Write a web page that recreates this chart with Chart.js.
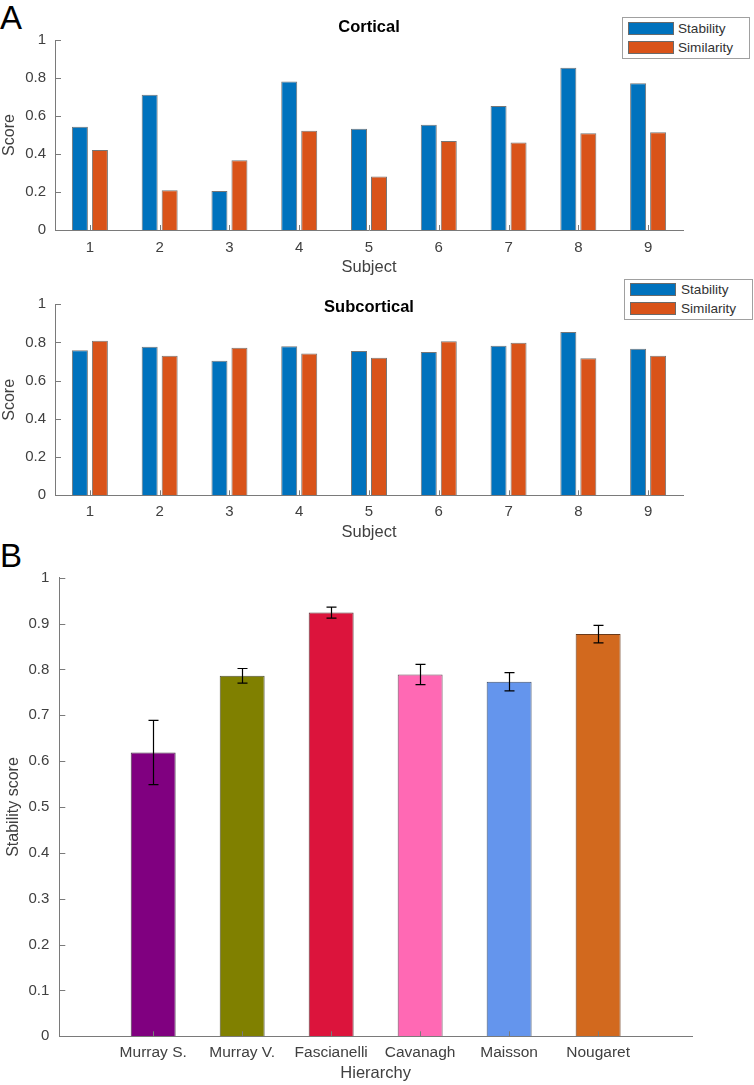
<!DOCTYPE html>
<html lang="en">
<head>
    <meta charset="UTF-8">
    <title>Stability and similarity scores</title>
    <script src="https://cdn.jsdelivr.net/npm/chart.js"></script>
    <style>
        body {
            margin: 0;
            background: #fff;
            font-family: "Liberation Sans", Arial, sans-serif;
            color: #262626;
        }
        #page {
            position: relative;
            width: 754px;
            height: 1085px;
            overflow: hidden;
        }
        canvas {
            position: absolute;
            left: 0;
        }
        .panel {
            position: absolute;
            left: 0;
            font-size: 33px;
            line-height: 33px;
            color: #000;
        }
        .title {
            position: absolute;
            left: 55px;
            width: 628px;
            text-align: center;
            font-size: 16.5px;
            line-height: 16px;
            font-weight: bold;
            color: #000;
        }
        .legend {
            position: absolute;
            box-sizing: border-box;
            border: 1px solid #a0a0a0;
            background: #fff;
        }
        .legend .swatch {
            position: absolute;
            box-sizing: border-box;
            border: 1px solid #6a6a6a;
            width: 46px;
            height: 13px;
        }
        .legend .label {
            position: absolute;
            font-size: 13.6px;
            line-height: 13px;
            color: #333;
            white-space: nowrap;
        }
    </style>
</head>
<body>
<div id="page">
    <div class="panel" style="top:1px">A</div>
    <div class="panel" style="top:539px">B</div>

    <canvas id="corticalChart" width="754" height="285" style="top:0"></canvas>
    <canvas id="subcorticalChart" width="754" height="260" style="top:285px"></canvas>
    <canvas id="hierarchyChart" width="754" height="540" style="top:545px"></canvas>

    <div class="title" style="top:18px">Cortical</div>
    <div class="title" style="top:298px">Subcortical</div>

    <div class="legend" id="legendCortical" style="left:622px; top:17px; width:128px; height:42px"></div>
    <div class="legend" id="legendSubcortical" style="left:624px; top:279px; width:129px; height:41px"></div>
</div>

<script>
    // panel A
    const subjects = ['1', '2', '3', '4', '5', '6', '7', '8', '9'];
    const seriesNames = ['Stability', 'Similarity'];
    const corticalStability = [0.544, 0.712, 0.205, 0.782, 0.533, 0.554, 0.653, 0.854, 0.772];
    const corticalSimilarity = [0.421, 0.209, 0.367, 0.523, 0.281, 0.468, 0.460, 0.509, 0.514];
    const subcorticalStability = [0.759, 0.778, 0.705, 0.780, 0.755, 0.750, 0.783, 0.855, 0.767];
    const subcorticalSimilarity = [0.809, 0.731, 0.773, 0.743, 0.720, 0.806, 0.799, 0.717, 0.731];

    // panel B
    const hierarchies = ['Murray S.', 'Murray V.', 'Fascianelli', 'Cavanagh', 'Maisson', 'Nougaret'];
    const stabilityMeans = [0.619, 0.786, 0.924, 0.789, 0.773, 0.877];
    const stabilityErrors = [0.070, 0.016, 0.012, 0.022, 0.020, 0.019];

    const seriesColors = ['#0072BD', '#D95319'];
    const hierarchyColors = ['#800080', '#808000', '#DC143C', '#FF69B4', '#6495ED', '#D2691E'];
    const hierarchyEdges = ['#4a3a4a', '#4f4f3a', '#5a3a3a', '#6a4a5a', '#3f4f6a', '#6a3a1a'];

    const axisColor = '#7a7a7a';
    const textColor = '#404040';
    const fontFamily = '"Liberation Sans", Arial, sans-serif';

    Chart.defaults.font.family = fontFamily;
    Chart.defaults.color = textColor;

    const plainNumber = v => String(+Number(v).toFixed(2));

    // MATLAB style tick marks pointing into the axes
    const innerTicks = {
        id: 'innerTicks',
        afterDatasetsDraw(chart) {
            const {ctx, chartArea, scales: {x, y}} = chart;
            ctx.save();
            ctx.strokeStyle = axisColor;
            ctx.lineWidth = 1;
            ctx.beginPath();
            x.ticks.forEach((t, i) => {
                const px = Math.round(x.getPixelForTick(i)) + 0.5;
                ctx.moveTo(px, chartArea.bottom);
                ctx.lineTo(px, chartArea.bottom - 5);
            });
            y.ticks.forEach((t, i) => {
                const py = Math.round(y.getPixelForTick(i)) + 0.5;
                ctx.moveTo(chartArea.left, py);
                ctx.lineTo(chartArea.left + 6, py);
            });
            ctx.stroke();
            ctx.restore();
        }
    };

    const errorBars = {
        id: 'errorBars',
        afterDatasetsDraw(chart) {
            const {ctx, scales: {y}} = chart;
            const meta = chart.getDatasetMeta(0);
            ctx.save();
            ctx.strokeStyle = '#000';
            ctx.lineWidth = 1.2;
            meta.data.forEach((bar, i) => {
                const top = y.getPixelForValue(stabilityMeans[i] + stabilityErrors[i]);
                const bottom = y.getPixelForValue(stabilityMeans[i] - stabilityErrors[i]);
                const cx = Math.round(bar.x) + 0.5;
                ctx.beginPath();
                ctx.moveTo(cx, top);
                ctx.lineTo(cx, bottom);
                ctx.moveTo(cx - 5, top);
                ctx.lineTo(cx + 5, top);
                ctx.moveTo(cx - 5, bottom);
                ctx.lineTo(cx + 5, bottom);
                ctx.stroke();
            });
            ctx.restore();
        }
    };

    function buildLegend(id, swatchLeft, tops, labelLeft) {
        const box = document.getElementById(id);
        seriesNames.forEach((name, i) => {
            const sw = document.createElement('div');
            sw.className = 'swatch';
            sw.style.left = swatchLeft + 'px';
            sw.style.top = tops[i] + 'px';
            sw.style.background = seriesColors[i];
            box.appendChild(sw);
            const lb = document.createElement('div');
            lb.className = 'label';
            lb.style.left = labelLeft + 'px';
            lb.style.top = tops[i] + 'px';
            lb.textContent = name;
            box.appendChild(lb);
        });
    }

    function subjectChart(canvasId, stability, similarity, pad, xHeight, xTitlePad, tickPad) {
        const ctx = document.getElementById(canvasId).getContext('2d');
        return new Chart(ctx, {
            type: 'bar',
            data: {
                labels: subjects,
                datasets: [
                    {label: seriesNames[0], data: stability, backgroundColor: seriesColors[0]},
                    {label: seriesNames[1], data: similarity, backgroundColor: seriesColors[1]}
                ].map(d => Object.assign(d, {
                    borderColor: 'rgba(60,60,60,0.7)',
                    borderWidth: 1,
                    categoryPercentage: 0.573,
                    barPercentage: 0.8
                }))
            },
            options: {
                responsive: false,
                animation: false,
                devicePixelRatio: 1,
                layout: {padding: pad},
                plugins: {legend: {display: false}, tooltip: {enabled: false}},
                scales: {
                    x: {
                        grid: {display: false, drawTicks: false},
                        border: {display: true, color: axisColor, width: 1},
                        ticks: {padding: tickPad, font: {size: 15}, color: textColor, maxRotation: 0, autoSkip: false},
                        title: {display: true, text: 'Subject', font: {size: 16.5}, color: textColor, padding: {top: 0, bottom: xTitlePad}},
                        afterFit(scale) { scale.height = xHeight; }
                    },
                    y: {
                        min: 0,
                        max: 1,
                        ticks: {stepSize: 0.2, padding: 9, font: {size: 15}, color: textColor, callback: plainNumber},
                        grid: {display: false, drawTicks: false},
                        border: {display: true, color: axisColor, width: 1},
                        title: {display: true, text: 'Score', font: {size: 16}, color: textColor, padding: {top: 0, bottom: 0}},
                        afterFit(scale) { scale.width = 55; }
                    }
                }
            },
            plugins: [innerTicks]
        });
    }

    subjectChart('corticalChart', corticalStability, corticalSimilarity,
        {top: 40, right: 71, bottom: 0, left: 0}, 55, 8.1, 8.5);
    subjectChart('subcorticalChart', subcorticalStability, subcorticalSimilarity,
        {top: 19.3, right: 71, bottom: 0, left: 0}, 49.7, 3.1, 7.4);

    buildLegend('legendCortical', 5, [4, 22.7], 55);
    buildLegend('legendSubcortical', 5, [3.3, 22], 56);

    const hierCtx = document.getElementById('hierarchyChart').getContext('2d');
    new Chart(hierCtx, {
        type: 'bar',
        data: {
            datasets: [{
                label: 'Stability score',
                data: hierarchies.map((h, i) => ({x: i + 1, y: stabilityMeans[i]})),
                backgroundColor: hierarchyColors,
                borderColor: hierarchyEdges,
                borderWidth: 1,
                categoryPercentage: 1,
                barPercentage: 0.505
            }]
        },
        options: {
            responsive: false,
            animation: false,
            devicePixelRatio: 1,
            layout: {padding: {top: 32.7, right: 62, bottom: 0, left: 0}},
            plugins: {legend: {display: false}, tooltip: {enabled: false}},
            scales: {
                x: {
                    type: 'linear',
                    min: -0.055,
                    max: hierarchies.length + 1.055,
                    offset: false,
                    grid: {display: false, drawTicks: false, offset: false},
                    border: {display: true, color: axisColor, width: 1},
                    afterBuildTicks(scale) {
                        scale.ticks = hierarchies.map((h, i) => ({value: i + 1}));
                    },
                    ticks: {
                        padding: 6.9,
                        font: {size: 15.5},
                        color: textColor,
                        maxRotation: 0,
                        autoSkip: false,
                        callback: v => hierarchies[v - 1] || ''
                    },
                    title: {display: true, text: 'Hierarchy', font: {size: 16.5}, color: textColor, padding: {top: 0, bottom: 2.1}},
                    afterFit(scale) { scale.height = 48.7; }
                },
                y: {
                    min: 0,
                    max: 1,
                    ticks: {stepSize: 0.1, padding: 10, font: {size: 15}, color: textColor, callback: plainNumber},
                    grid: {display: false, drawTicks: false},
                    border: {display: true, color: axisColor, width: 1},
                    title: {display: true, text: 'Stability score', font: {size: 16}, color: textColor, padding: {top: 4, bottom: 0}},
                    afterFit(scale) { scale.width = 59.3; }
                }
            }
        },
        plugins: [innerTicks, errorBars]
    });
</script>
</body>
</html>
